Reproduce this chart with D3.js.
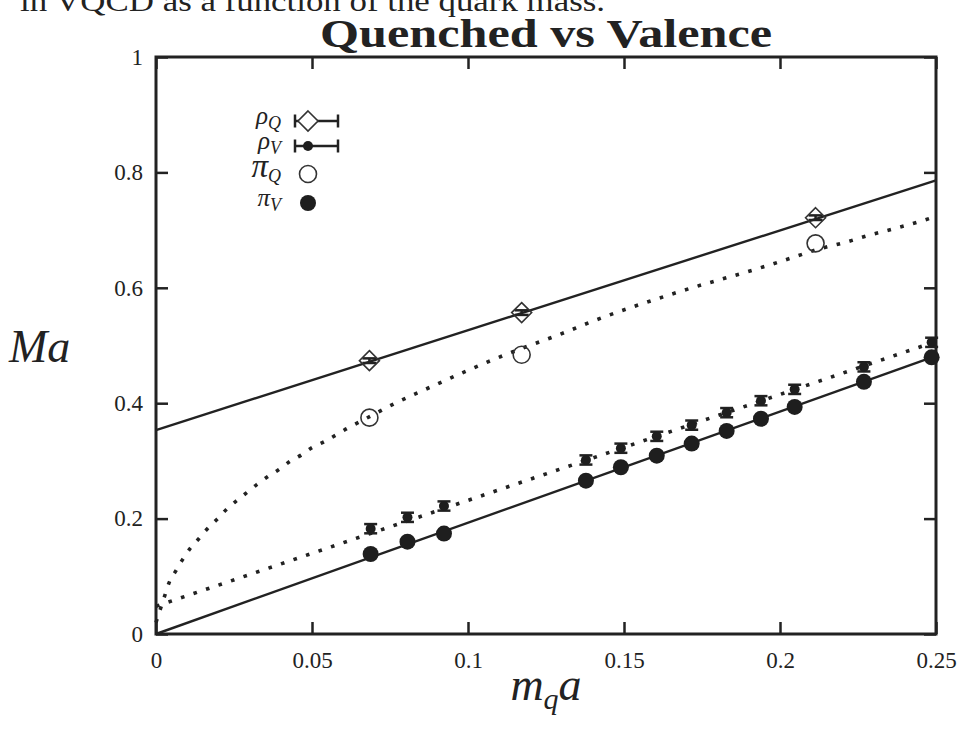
<!DOCTYPE html>
<html>
<head>
<meta charset="utf-8">
<script src="https://cdn.jsdelivr.net/npm/d3@7"></script>
<style>
  body { margin: 0; background: #fff; }
  svg { display: block; }
  text { font-family: "Liberation Serif", "DejaVu Serif", serif; fill: #222; }
  .axis text { font-size: 23px; }
  .axis line { stroke: #222; stroke-width: 2.5px; }
  .axis path { display: none; }
</style>
</head>
<body>
<div id="chart"></div>
<script>
// quark masses (x) and masses (y)
var mqQ = [0.0684, 0.1172, 0.2114];
var rhoQ = [0.4737, 0.557, 0.7215];
var rhoQErr = [0.004, 0.004, 0.004];
var piQ = [0.375, 0.484, 0.677];

var mqV = [0.0688, 0.0806, 0.0923, 0.1378, 0.149, 0.1605, 0.1717, 0.1829, 0.1939, 0.2047, 0.2269, 0.2486];
var rhoV = [0.1825, 0.2022, 0.2218, 0.3016, 0.322, 0.3426, 0.362, 0.3836, 0.4043, 0.424, 0.463, 0.5055];
var rhoVErr = [0.008, 0.008, 0.008, 0.008, 0.008, 0.008, 0.008, 0.008, 0.008, 0.008, 0.008, 0.008];
var piV = [0.1387, 0.160, 0.174, 0.2657, 0.289, 0.309, 0.330, 0.352, 0.373, 0.3935, 0.437, 0.4795];

// fit curves
var fitRhoQx = [0, 0.25];
var fitRhoQy = [0.3535, 0.786];
var fitPiVx = [0, 0.25];
var fitPiVy = [0, 0.482];
var fitRhoVx = [0, 0.25];
var fitRhoVy = [0.048, 0.507];
var fitPiQx = [0, 0.0029, 0.0042, 0.0063, 0.0084, 0.0109, 0.0137, 0.0164, 0.0196, 0.0224, 0.0256, 0.0291, 0.0323,
  0.0359, 0.0394, 0.0429, 0.0465, 0.05, 0.0538, 0.0612, 0.0689, 0.0763, 0.0839, 0.0917, 0.0996, 0.1074, 0.1153,
  0.1233, 0.1312, 0.139, 0.167, 0.1957, 0.2038, 0.2123, 0.2204, 0.2285, 0.2369, 0.2449, 0.25];
var fitPiQy = [0.02, 0.068, 0.089, 0.109, 0.128, 0.148, 0.165, 0.182, 0.199, 0.215, 0.230, 0.245, 0.259,
  0.273, 0.285, 0.299, 0.310, 0.323, 0.333, 0.356, 0.378, 0.399, 0.418, 0.437, 0.456, 0.474, 0.491,
  0.507, 0.523, 0.540, 0.592, 0.638, 0.652, 0.667, 0.678, 0.691, 0.703, 0.715, 0.724];

var xTicks = [0, 0.05, 0.1, 0.15, 0.2, 0.25];
var xTickLabels = ["0", "0.05", "0.1", "0.15", "0.2", "0.25"];
var yTicks = [0, 0.2, 0.4, 0.6, 0.8, 1];
var yTickLabels = ["0", "0.2", "0.4", "0.6", "0.8", "1"];

var width = 961, height = 739;
var margin = {top: 57, right: 25, bottom: 105, left: 156};

var svg = d3.select("#chart").append("svg")
    .attr("width", width)
    .attr("height", height);

var x = d3.scaleLinear().domain([0, 0.25]).range([margin.left, width - margin.right]);
var y = d3.scaleLinear().domain([0, 1]).range([height - margin.bottom, margin.top]);

// caption cut off at the top
svg.append("text")
    .attr("x", 20).attr("y", 11)
    .attr("font-size", 29)
    .attr("textLength", 585).attr("lengthAdjust", "spacingAndGlyphs")
    .text("in VQCD as a function of the quark mass.");

svg.append("text")
    .attr("x", (x(0) + x(0.25)) / 2).attr("y", 47)
    .attr("text-anchor", "middle")
    .attr("font-size", 40).attr("font-weight", "bold")
    .attr("textLength", 452).attr("lengthAdjust", "spacingAndGlyphs")
    .text("Quenched vs Valence");

// axes, ticks pointing inward, mirrored
svg.append("g").attr("class", "axis")
    .attr("transform", "translate(0," + y(0) + ")")
    .call(d3.axisBottom(x).tickValues(xTicks).tickSize(-12).tickPadding(18)
        .tickFormat(function(d, i) { return xTickLabels[i]; }));
svg.append("g").attr("class", "axis")
    .attr("transform", "translate(0," + y(1) + ")")
    .call(d3.axisTop(x).tickValues(xTicks).tickSize(-12).tickFormat(""));
svg.append("g").attr("class", "axis")
    .attr("transform", "translate(" + x(0) + ",0)")
    .call(d3.axisLeft(y).tickValues(yTicks).tickSize(-12).tickPadding(13)
        .tickFormat(function(d, i) { return yTickLabels[i]; }));
svg.append("g").attr("class", "axis")
    .attr("transform", "translate(" + x(0.25) + ",0)")
    .call(d3.axisRight(y).tickValues(yTicks).tickSize(-12).tickFormat(""));

svg.append("rect")
    .attr("x", x(0)).attr("y", y(1))
    .attr("width", x(0.25) - x(0)).attr("height", y(0) - y(1))
    .attr("fill", "none").attr("stroke", "#222").attr("stroke-width", 3);

// axis titles
svg.append("text")
    .attr("x", 9).attr("y", 362)
    .attr("font-size", 46).attr("font-style", "italic")
    .text("Ma");

var xl = svg.append("text")
    .attr("x", (x(0) + x(0.25)) / 2).attr("y", 700)
    .attr("text-anchor", "middle")
    .attr("font-size", 46).attr("font-style", "italic");
xl.append("tspan").text("m");
xl.append("tspan").attr("font-size", 30).attr("dy", 9).text("q");
xl.append("tspan").attr("dy", -9).text("a");

// fit lines
var plot = svg.append("g");

function fitLine(xs, ys) {
    return d3.line()
        .x(function(d) { return x(d); })
        .y(function(d, i) { return y(ys[i]); })
        .curve(d3.curveMonotoneX)(xs);
}

plot.append("path").attr("d", fitLine(fitRhoQx, fitRhoQy))
    .attr("fill", "none").attr("stroke", "#222").attr("stroke-width", 2.4);
plot.append("path").attr("d", fitLine(fitPiVx, fitPiVy))
    .attr("fill", "none").attr("stroke", "#222").attr("stroke-width", 2.4);
plot.append("path").attr("d", fitLine(fitRhoVx, fitRhoVy))
    .attr("fill", "none").attr("stroke", "#222").attr("stroke-width", 3.6)
    .attr("stroke-dasharray", "3.6 9.6");
plot.append("path").attr("d", fitLine(fitPiQx, fitPiQy))
    .attr("fill", "none").attr("stroke", "#222").attr("stroke-width", 3.6)
    .attr("stroke-dasharray", "3.6 9.6");

// error bars
function errorBars(xs, ys, es, cap) {
    var g = plot.append("g").attr("stroke", "#222").attr("stroke-width", 2.5);
    xs.forEach(function(xv, i) {
        var lo = y(ys[i] - es[i]), hi = y(ys[i] + es[i]), px = x(xv);
        g.append("line").attr("x1", px).attr("x2", px).attr("y1", lo).attr("y2", hi);
        g.append("line").attr("x1", px - cap).attr("x2", px + cap).attr("y1", lo).attr("y2", lo);
        g.append("line").attr("x1", px - cap).attr("x2", px + cap).attr("y1", hi).attr("y2", hi);
    });
}

// pi_Q open circles
plot.append("g").selectAll("circle").data(mqQ).enter().append("circle")
    .attr("cx", function(d) { return x(d); })
    .attr("cy", function(d, i) { return y(piQ[i]); })
    .attr("r", 8.5)
    .attr("fill", "none").attr("stroke", "#333").attr("stroke-width", 1.6);

// rho_Q diamonds
errorBars(mqQ, rhoQ, rhoQErr, 7);
function diamond(cx, cy, s) {
    return "M" + cx + "," + (cy - s) + "L" + (cx + s) + "," + cy + "L" + cx + "," + (cy + s) + "L" + (cx - s) + "," + cy + "Z";
}
plot.append("g").selectAll("path").data(mqQ).enter().append("path")
    .attr("d", function(d, i) { return diamond(x(d), y(rhoQ[i]), 10); })
    .attr("fill", "none").attr("stroke", "#333").attr("stroke-width", 1.6);

// pi_V big dots
plot.append("g").selectAll("circle").data(mqV).enter().append("circle")
    .attr("cx", function(d) { return x(d); })
    .attr("cy", function(d, i) { return y(piV[i]); })
    .attr("r", 8)
    .attr("fill", "#1e1e1e");

// rho_V small dots with errors
errorBars(mqV, rhoV, rhoVErr, 6.5);
plot.append("g").selectAll("circle").data(mqV).enter().append("circle")
    .attr("cx", function(d) { return x(d); })
    .attr("cy", function(d, i) { return y(rhoV[i]); })
    .attr("r", 5)
    .attr("fill", "#1e1e1e");

// legend
var legend = svg.append("g");
var rows = [
    {sym: "ρ", sub: "Q", y: 121, size: 25, kind: "diamond"},
    {sym: "ρ", sub: "V", y: 146, size: 25, kind: "dot"},
    {sym: "π", sub: "Q", y: 174, size: 33, kind: "open"},
    {sym: "π", sub: "V", y: 203, size: 25, kind: "big"}
];
rows.forEach(function(r) {
    var t = legend.append("text")
        .attr("x", 281).attr("y", r.y + 3)
        .attr("text-anchor", "end")
        .attr("font-size", r.size).attr("font-style", "italic");
    t.append("tspan").text(r.sym);
    t.append("tspan").attr("font-size", 18).attr("dy", 5).text(r.sub);

    if (r.kind === "diamond" || r.kind === "dot") {
        var g = legend.append("g").attr("stroke", "#222").attr("stroke-width", 2.5);
        g.append("line").attr("x1", 295).attr("x2", 338).attr("y1", r.y).attr("y2", r.y);
        g.append("line").attr("x1", 295).attr("x2", 295).attr("y1", r.y - 6.5).attr("y2", r.y + 6.5);
        g.append("line").attr("x1", 338).attr("x2", 338).attr("y1", r.y - 6.5).attr("y2", r.y + 6.5);
    }
    if (r.kind === "diamond") {
        legend.append("path").attr("d", diamond(308, r.y, 10))
            .attr("fill", "#fff").attr("stroke", "#333").attr("stroke-width", 1.6);
    } else if (r.kind === "dot") {
        legend.append("circle").attr("cx", 308).attr("cy", r.y).attr("r", 5).attr("fill", "#1e1e1e");
    } else if (r.kind === "open") {
        legend.append("circle").attr("cx", 308).attr("cy", r.y).attr("r", 8.5)
            .attr("fill", "none").attr("stroke", "#333").attr("stroke-width", 1.6);
    } else {
        legend.append("circle").attr("cx", 308).attr("cy", r.y).attr("r", 8).attr("fill", "#1e1e1e");
    }
});
</script>
</body>
</html>
